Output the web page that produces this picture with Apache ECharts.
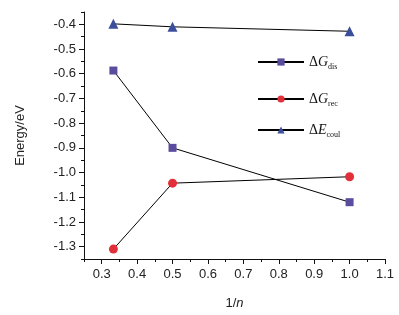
<!DOCTYPE html>
<html>
<head>
<meta charset="utf-8">
<script src="https://cdn.jsdelivr.net/npm/echarts@6/dist/echarts.min.js"></script>
<style>
  html, body { margin: 0; padding: 0; background: #fff; }
  #chart { width: 399px; height: 315px; }
</style>
</head>
<body>
<div id="chart"></div>
<script>
// x = 1/n
const invN = [0.333, 0.5, 1.0];
const dGdis = [-0.587, -0.900, -1.120];
const dGrec = [-1.310, -1.043, -1.017];
const dEcoul = [-0.398, -0.410, -0.428];

const xMajor = [0.3, 0.4, 0.5, 0.6, 0.7, 0.8, 0.9, 1.0, 1.1];
const xMinor = [0.25, 0.35, 0.45, 0.55, 0.65, 0.75, 0.85, 0.95, 1.05];
const yMajor = [-1.3, -1.2, -1.1, -1.0, -0.9, -0.8, -0.7, -0.6, -0.5, -0.4];
const yMinor = [-1.35, -1.25, -1.15, -1.05, -0.95, -0.85, -0.75, -0.65, -0.55, -0.45, -0.35];

const chart = echarts.init(document.getElementById('chart'));

const axisColor = '#111';
const labelFont = { fontFamily: 'Liberation Sans', fontSize: 13, color: '#222' };

function pair(v) { return invN.map((x, i) => [x, v[i]]); }

const legendRich = {
  d: { fontFamily: 'Liberation Serif', fontSize: 14, color: '#111' },
  v: { fontFamily: 'Liberation Serif', fontSize: 14, fontStyle: 'italic', color: '#111' },
  s: { fontFamily: 'Liberation Serif', fontSize: 8, color: '#111', padding: [9, 0, 0, 0] }
};
function legendAt(name, top) {
  return {
    data: [name], left: 252, top: top, itemWidth: 46, itemHeight: 9, itemGap: 4,
    formatter: n => '{d|Δ}' + (n === 'coul' ? '{v|E}' : '{v|G}') + '{s|' + n + '}',
    textStyle: { rich: legendRich }
  };
}

chart.setOption({
  animation: false,
  grid: { left: 84, right: 14, top: 12, bottom: 56 },
  legend: [legendAt('dis', 50), legendAt('rec', 87), legendAt('coul', 118)],
  xAxis: [{
    type: 'value', min: 0.25, max: 1.1,
    name: '{a|1/}{b|n}', nameLocation: 'middle', nameGap: 38,
    nameTextStyle: { rich: { a: labelFont, b: Object.assign({}, labelFont, { fontStyle: 'italic' }) } },
    axisLine: { show: true, lineStyle: { color: axisColor, width: 1 } },
    axisTick: { show: true, length: 5, customValues: xMajor, lineStyle: { color: axisColor } },
    axisLabel: Object.assign({ customValues: xMajor, margin: 9, formatter: v => v.toFixed(1) }, labelFont),
    splitLine: { show: false }
  }, {
    type: 'value', min: 0.25, max: 1.1, position: 'bottom',
    axisLine: { show: false },
    axisTick: { show: true, length: 3, customValues: xMinor, lineStyle: { color: axisColor } },
    axisLabel: { show: false },
    splitLine: { show: false }
  }],
  yAxis: [{
    type: 'value', min: -1.35, max: -0.35,
    name: 'Energy/eV', nameLocation: 'middle', nameGap: 57, nameTextStyle: labelFont,
    axisLine: { show: true, lineStyle: { color: axisColor, width: 1 } },
    axisTick: { show: true, length: 5, customValues: yMajor, lineStyle: { color: axisColor } },
    axisLabel: Object.assign({ customValues: yMajor, margin: 8, formatter: v => v.toFixed(1) }, labelFont),
    splitLine: { show: false }
  }, {
    type: 'value', min: -1.35, max: -0.35, position: 'left',
    axisLine: { show: false },
    axisTick: { show: true, length: 3, customValues: yMinor, lineStyle: { color: axisColor } },
    axisLabel: { show: false },
    splitLine: { show: false }
  }],
  series: [
    { name: 'dis', type: 'line', data: pair(dGdis), symbol: 'rect', symbolSize: 8,
      lineStyle: { color: '#000', width: 1 }, itemStyle: { color: '#5b4c9e' } },
    { name: 'rec', type: 'line', data: pair(dGrec), symbol: 'circle', symbolSize: 9,
      lineStyle: { color: '#000', width: 1 }, itemStyle: { color: '#e2303a' } },
    { name: 'coul', type: 'line', data: pair(dEcoul), symbol: 'triangle', symbolSize: 10,
      lineStyle: { color: '#000', width: 1 }, itemStyle: { color: '#3b4e9c' } }
  ]
});
</script>
</body>
</html>
